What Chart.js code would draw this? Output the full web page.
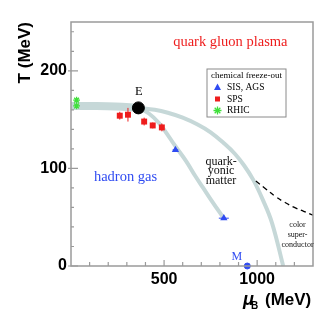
<!DOCTYPE html>
<html lang="en">
<head>
<meta charset="UTF-8">
<title>QCD phase diagram</title>
<script src="https://cdn.jsdelivr.net/npm/chart.js"></script>
<style>
  body { margin: 0; background: #fff; }
</style>
</head>
<body>
<canvas id="myChart" width="324" height="314"></canvas>
<script>
// freeze-out points (muB in MeV, T in MeV)
const rhicMu = [30, 30];
const rhicT = [170, 164];
const spsMu = [262, 306, 393, 439, 488];
const spsT = [154, 155, 148, 144, 142];
const spsErr = [4, 7, 4, 3, 4];
const sisMu = [561, 821];
const sisT = [119, 49];
const sisErr = [15, 27];
const critMu = [362];
const critT = [162];
const mMu = [947];
const mT = [0];

// phase boundaries
const bandMu = [0, 120, 240, 362];
const bandT = [164, 164, 163.5, 162];
const outerMu = [362, 450, 520, 600, 680, 750, 820, 880, 930, 980, 1030, 1080, 1140];
const outerT = [162, 160, 157, 152, 145, 137, 126, 115, 103, 88, 68, 44, 0];
const innerMu = [362, 420, 470, 510, 556, 620, 665, 710, 755, 820];
const innerT = [162, 156, 147, 137, 124, 107, 93, 80, 67, 49];
const cscMu = [993, 1040, 1100, 1150, 1200, 1250, 1300];
const cscT = [87, 80, 71, 65, 60, 56, 52];

const xLabels = [500, 1000];
const yLabels = [0, 100, 200];

const red = '#ee1d1d', blue = '#2f4bf2', green = '#3fe03a', curve = '#c6d8d8';
const sans = "'Liberation Sans', Arial, sans-serif";
const serif = "'Liberation Serif', 'Times New Roman', serif";

const pts = (xs, ys) => xs.map((v, i) => ({x: v, y: ys[i]}));
const line = (xs, ys, w, extra) => Object.assign({
    data: pts(xs, ys), showLine: true, pointRadius: 0, borderColor: curve,
    borderWidth: w, tension: 0.4, order: 5
}, extra || {});

function txt(ctx, s, px, py, font, color, align) {
    ctx.font = font;
    ctx.fillStyle = color;
    ctx.textAlign = align || 'center';
    ctx.textBaseline = 'middle';
    ctx.fillText(s, px, py);
}

function marker(ctx, style, px, py, color) {
    ctx.fillStyle = color;
    ctx.strokeStyle = color;
    ctx.beginPath();
    if (style === 'triangle') {
        ctx.moveTo(px, py - 4); ctx.lineTo(px + 3.5, py + 2.5); ctx.lineTo(px - 3.5, py + 2.5);
        ctx.closePath(); ctx.fill();
    } else if (style === 'rect') {
        ctx.fillRect(px - 2.5, py - 2.5, 5, 5);
    } else {
        ctx.lineWidth = 1.3;
        for (let k = 0; k < 4; k++) {
            const an = k * Math.PI / 4;
            ctx.moveTo(px - 4 * Math.sin(an), py - 4 * Math.cos(an));
            ctx.lineTo(px + 4 * Math.sin(an), py + 4 * Math.cos(an));
        }
        ctx.stroke();
    }
}

const overlay = {
    id: 'overlay',
    afterDatasetsDraw(chart) {
        const {ctx, scales: {x, y}} = chart;
        ctx.save();
        ctx.lineWidth = 1;
        ctx.strokeStyle = red;
        spsMu.forEach((m, i) => {
            const px = x.getPixelForValue(m);
            ctx.beginPath();
            ctx.moveTo(px, y.getPixelForValue(spsT[i] - spsErr[i]));
            ctx.lineTo(px, y.getPixelForValue(spsT[i] + spsErr[i]));
            ctx.stroke();
        });
        ctx.strokeStyle = blue;
        sisMu.forEach((m, i) => {
            const py = y.getPixelForValue(sisT[i]);
            ctx.beginPath();
            ctx.moveTo(x.getPixelForValue(m - sisErr[i]), py);
            ctx.lineTo(x.getPixelForValue(m + sisErr[i]), py);
            ctx.stroke();
        });
        ctx.restore();
    },
    afterDraw(chart) {
        const {ctx, chartArea: a, scales: {x, y}} = chart;
        ctx.save();
        // frame
        ctx.strokeStyle = '#9a9a9a';
        ctx.lineWidth = 1.5;
        ctx.strokeRect(a.left, a.top, a.right - a.left, a.bottom - a.top);
        // inner ticks
        ctx.lineWidth = 1.2;
        ctx.beginPath();
        for (let v = 0; v <= 240; v += 20) {
            const py = y.getPixelForValue(v);
            const major = yLabels.includes(v);
            ctx.moveTo(a.left - (major ? 3 : 0), py);
            ctx.lineTo(a.left + (major ? 7 : 3), py);
        }
        for (let v = 100; v < 1300; v += 100) {
            const px = x.getPixelForValue(v);
            ctx.moveTo(px, a.bottom);
            ctx.lineTo(px, a.bottom - (xLabels.includes(v) ? 6 : 4));
        }
        ctx.stroke();

        // region labels
        const at = (m, t) => [x.getPixelForValue(m), y.getPixelForValue(t)];
        txt(ctx, 'quark gluon plasma', ...at(856, 229), '14.5px ' + serif, red);
        txt(ctx, 'hadron gas', ...at(293, 90.6), '14.5px ' + serif, blue);
        txt(ctx, 'quark-', ...at(806, 107), '12px ' + serif, '#111');
        txt(ctx, 'yonic', ...at(806, 97), '12px ' + serif, '#111');
        txt(ctx, 'matter', ...at(806, 87.5), '12px ' + serif, '#111');
        txt(ctx, 'color', ...at(1217, 42), '8px ' + serif, '#111');
        txt(ctx, 'super-', ...at(1217, 31.8), '8px ' + serif, '#111');
        txt(ctx, 'conductor', ...at(1217, 21.5), '8px ' + serif, '#111');
        txt(ctx, 'E', ...at(364, 179), '12.5px ' + serif, '#000');
        txt(ctx, 'M', ...at(891, 9.7), '12px ' + serif, blue);

        // legend box
        const lx = a.left + 136, ly = a.top + 47, lw = 79, lh = 48;
        ctx.fillStyle = '#fff';
        ctx.fillRect(lx, ly, lw, lh);
        ctx.strokeStyle = '#8a8a8a';
        ctx.lineWidth = 1;
        ctx.strokeRect(lx, ly, lw, lh);
        txt(ctx, 'chemical freeze-out', lx + lw / 2, ly + 7, '9px ' + serif, '#000');
        const entries = [['SIS, AGS', 'triangle', blue], ['SPS', 'rect', red], ['RHIC', 'star', green]];
        entries.forEach((e, i) => {
            const ey = ly + 18.5 + i * 11.5;
            marker(ctx, e[1], lx + 10.5, ey, e[2]);
            txt(ctx, e[0], lx + 20, ey, '9.5px ' + serif, '#000', 'left');
        });

        // x axis title with subscript
        ctx.fillStyle = '#000';
        ctx.textAlign = 'left';
        ctx.textBaseline = 'alphabetic';
        ctx.font = 'italic bold 18px ' + sans;
        ctx.fillText('\u03bc', 243, 305);
        ctx.font = 'bold 10px ' + sans;
        ctx.fillText('B', 251, 309);
        ctx.font = 'bold 17px ' + sans;
        ctx.fillText('(MeV)', 265, 305);
        ctx.restore();
    }
};

const ctx = document.getElementById('myChart').getContext('2d');
const myChart = new Chart(ctx, {
    type: 'scatter',
    data: {
        datasets: [
            {data: pts(critMu, critT), pointRadius: 6, backgroundColor: '#000', borderColor: '#000', order: 0},
            {data: pts(mMu, mT), pointRadius: 3, backgroundColor: blue, borderColor: blue, order: 0, clip: false},
            {data: pts(spsMu, spsT), pointStyle: 'rect', pointRadius: 4.2, backgroundColor: red, borderColor: red, borderWidth: 0, order: 1},
            {data: pts(sisMu, sisT), pointStyle: 'triangle', pointRadius: 4.2, backgroundColor: blue, borderColor: blue, borderWidth: 0, order: 1},
            {data: pts(rhicMu, rhicT), pointStyle: 'star', pointRadius: 3.4, borderColor: green, borderWidth: 1.3, order: 1},
            line(bandMu, bandT, 8),
            line(outerMu, outerT, 4),
            line(innerMu, innerT, 4),
            line(cscMu, cscT, 1.3, {borderColor: '#000', borderDash: [5, 4], order: 4})
        ]
    },
    options: {
        responsive: false,
        animation: false,
        events: [],
        layout: {padding: {top: 22, right: 11, left: 0, bottom: 0}},
        plugins: {legend: {display: false}, tooltip: {enabled: false}},
        scales: {
            x: {
                type: 'linear', min: 0, max: 1300,
                grid: {display: false, drawTicks: false},
                border: {display: false},
                ticks: {
                    stepSize: 100, autoSkip: false, maxRotation: 0, padding: 4, color: '#000',
                    font: {family: sans, size: 16, weight: 'bold'},
                    callback: v => xLabels.includes(v) ? v : ''
                },
                afterFit: s => { s.height = 48; }
            },
            y: {
                min: 0, max: 250,
                grid: {display: false, drawTicks: false},
                border: {display: false},
                ticks: {
                    stepSize: 20, autoSkip: false, padding: 4, color: '#000',
                    font: {family: sans, size: 16, weight: 'bold'},
                    callback: v => yLabels.includes(v) ? v : ''
                },
                title: {
                    display: true, text: 'T (MeV)', align: 'end', color: '#000',
                    padding: {top: 15, bottom: 0},
                    font: {family: sans, size: 17, weight: 'bold'}
                },
                afterFit: s => { s.width = 71; }
            }
        }
    },
    plugins: [overlay]
});
</script>
</body>
</html>
